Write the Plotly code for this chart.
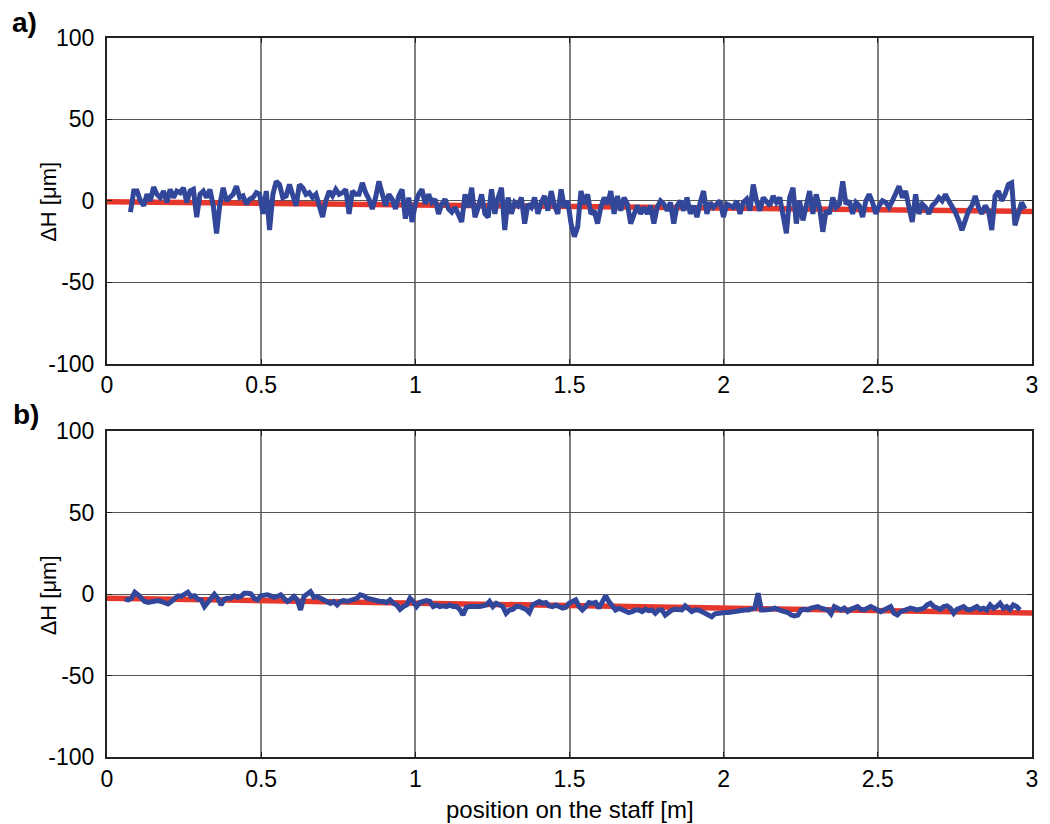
import numpy as np
import plotly.graph_objects as go
from plotly.subplots import make_subplots

# a) height deviations along the staff [um], sampled at regular positions
pos_a_start, pos_a_end = 0.076, 2.977
dh_a = [
    -7, 6, 6, 0, -3, 4, 0, 8.5, 4, 2, 6, -1, 7, 2, 6, 5, 8, -1, 6, 7, -10, 4, 6, 2, 7, -3,
    -20, -2, 8, 0, 2, 4, 9, 2, 3, -2, 1, 2, 5, 4, -8, 6, -18, 4, 12, 10, 2, 3, 10, 2, -3, 10,
    8, 4, 5, 2, 4, -3, -10, 0, 6, 3, 7, 4, 5, 7, -8, 6, 4, 4, 11, 5, 1, -5, 2, 12, 4, -3, 4,
    1, -5, 3, 7, -11, 2, -13, -2, 4, 7, -2, 4, -1, 1, -8, -2, 1,
    -5, -7, -4, -8, -13, 4, -4, 8, -10, -4, 4, -8, -10, 7, -8, 2, 8, -18, 2, -8, -1, -3, 2,
    -14, -2, -4, 2, -8, -1, 3, -6, 6, -3, -8, 7, -4, 0, -14, -22, -16, 6, -2, 4, -8, -6, -14,
    -4, 2, -2, 6, -8, 3, -6, 2, -2, -14, -8, -3, -8, -4, -8, -3, -14, -4, 0, -2, -6, -1, -14,
    -3, 0, -6, 2, -8, -3, -10, -1, 6, -8, -1, -4, -2, 0, -10, -2, -3, -4, 0, -8, -1, 1, -6,
    10, 0, -6, 2, 0, -3, 3, -1, 2, -8, -20, 2,
    8, -14, 0, -12, -2, 6, -8, 4, -4, -19, -6, -8, 2, -4, -2, 12, -2, 0, -8, -1, -3, -10, 0,
    4, -1, -8, -3, 0, -1, -4, 0, 4, 9, 2, 6, -4, -13, 4, -8, -2, -4, -8, -3, -1, 2, 0, 4, 0,
    -3, -7, -12, -18, -12, -6, -3, 3, -4, -8, -3, -6, -18, 3, 6, 0, 4, 10, 11, -15, -8, -1, -5,
]

# b) height deviations along the staff [um], sampled at regular positions
pos_b_start, pos_b_end = 0.058, 2.961
dh_b = [
    -3, -3.5, -2.5, 1.2, -0.4, -2.5, -4.5, -5.1, -4.5, -4.5, -3.9, -4.5, -5.6, -6, -4.5,
    -2.5, -1, -1.4, -0.4, 1.2, -1.4, -1, -3.1, -3.5, -7.6, -4.5, -2.5, 0, -2.5, -6.6, -3.1,
    -2.5, -2.5, -1, -1.9, -1.4, 0.6, 0.6, 0.2, -2.5, -3.5, -1, -0.4, -0.4, -1, -1.9, -1.4,
    -0.4, -2.5, -4.5, -3.1, -1.4, -3.5, -9.7, -1.4, 0.6, 1.6, -1.9, -1.4, -2.5, -3.5, -4.5,
    -5.6, -4.5, -6.6, -4.5, -3.9, -4.5, -3.9, -3.5, -2.5, -0.4, -1, -2.5, -3.1, -3.5, -4.5,
    -4.5, -4.5, -5.1, -3.5, -5.6, -6.6, -9.3, -7.6, -6.6, -2.5, -4.5, -7.6, -5.1, -4.5,
    -3.9, -4.5, -7.6, -6.6, -7.6, -7.2, -7.6,
    -6.6, -7.6, -7.6, -9.3, -12.8, -8, -7.6, -7.6, -8, -7.6, -7.2, -6.6, -4.5, -7.6, -5.6,
    -6.6, -7.6, -11.7, -9.7, -9.3, -7.6, -7.6, -8.6, -9.3, -11.3, -6.6, -5.6, -4.5, -5.6,
    -5.1, -7.2, -7.6, -6.6, -7.2, -8.6, -8, -5.6, -4.5, -3.5, -7.6, -9.7, -7.6, -5.1, -5.6,
    -5.1, -8.6, -4.5, -1, -4.5, -7.6, -9.7, -8.6, -9.7, -10.7, -11.3, -10.7, -9.7, -9.7,
    -10.7, -9.3, -10.1, -9.7, -11.7, -9.7, -9.7, -12.8, -11.3, -9.7, -9.3, -9.7, -9.7, -7.2,
    -9.3, -10.7, -9.7, -9.7, -10.7, -11.7, -12.8, -13.8, -12.1, -11.7, -11.3, -11.3, -11.3,
    -10.7, -10.7, -10.3, -9.7, -9.7, -9.7, -9.3, -8.6, 0.6, -9.7, -9.7, -9.7, -9.3, -8.6,
    -9.7, -10.1, -10.7, -11.3, -12.8, -13.4,
    -12.8, -9.7, -9.3, -9.7, -8.6, -8, -7.6, -8.6, -9.3, -9.7, -12.1, -7.6, -8.6, -9.7, -8.6,
    -10.7, -9.3, -8.6, -7.6, -9.3, -9.7, -8.6, -7.6, -8.6, -9.7, -10.7, -9.7, -8.6, -7.6,
    -11.7, -12.8, -10.7, -9.7, -9.3, -8.6, -9.3, -9.7, -9.3, -8.6, -6.6, -5.6, -7.6, -8.6,
    -9.3, -7.6, -7.2, -8.6, -11.7, -9.3, -8.6, -7.6, -9.3, -9.7, -8.6, -7.6, -9.3, -8.6,
    -9.7, -6.6, -8.6, -7.6, -5.6, -8.6, -7.6, -9.3, -6.6, -7.6, -9.7,
]

# linear trend fitted to each profile (start and end of the staff)
trend_x = [0, 3]
trend_a = [-0.5, -6.5]
trend_b = [-2.5, -11.5]

x_ticks = [0, 0.5, 1, 1.5, 2, 2.5, 3]
x_tick_text = ["0", "0.5", "1", "1.5", "2", "2.5", "3"]
y_ticks = [-100, -50, 0, 50, 100]
y_tick_text = ["-100", "-50", "0", "50", "100"]

BLUE = "#33479a"
RED = "#e6372d"
FONT = "Liberation Sans, Arial, sans-serif"

pos_a = np.linspace(pos_a_start, pos_a_end, len(dh_a))
pos_b = np.linspace(pos_b_start, pos_b_end, len(dh_b))

fig = make_subplots(rows=2, cols=1, vertical_spacing=0.0942)

for row, (pos, dh, trend) in enumerate([(pos_a, dh_a, trend_a), (pos_b, dh_b, trend_b)], start=1):
    fig.add_trace(go.Scatter(x=trend_x, y=trend, mode="lines",
                             line=dict(color=RED, width=5.5), showlegend=False), row=row, col=1)
    fig.add_trace(go.Scatter(x=pos, y=dh, mode="lines",
                             line=dict(color=BLUE, width=5), showlegend=False), row=row, col=1)

axis_common = dict(
    showline=True, linecolor="#222222", linewidth=2, mirror="ticks",
    ticks="inside", ticklen=5, tickcolor="#222222", tickwidth=1,
    tickfont=dict(family=FONT, size=23, color="black"),
    zeroline=False,
)
fig.update_xaxes(range=[0, 3], tickvals=x_ticks, ticktext=x_tick_text,
                 showgrid=True, gridcolor="#7f7f7f", gridwidth=2, **axis_common)
fig.update_yaxes(range=[-100, 100], tickvals=y_ticks, ticktext=y_tick_text,
                 showgrid=True, gridcolor="#555555", gridwidth=1,
                 ticklabelstandoff=6, **axis_common)

fig.update_layout(
    width=1050, height=824,
    margin=dict(l=107, r=12, t=38, b=67),
    paper_bgcolor="white", plot_bgcolor="white",
    font=dict(family=FONT, color="black"),
    annotations=[
        dict(text="ΔH [μm]", textangle=-90, x=-0.0634, y=0.7726, xref="paper", yref="paper",
             showarrow=False, font=dict(size=22), xanchor="center", yanchor="middle"),
        dict(text="ΔH [μm]", textangle=-90, x=-0.0634, y=0.2253, xref="paper", yref="paper",
             showarrow=False, font=dict(size=22), xanchor="center", yanchor="middle"),
        dict(text="position on the staff [m]", x=0.5, y=-0.0725, xref="paper", yref="paper",
             showarrow=False, font=dict(size=24), xanchor="center", yanchor="middle"),
        dict(text="<b>a)</b>", x=-0.0892, y=1.0209, xref="paper", yref="paper",
             showarrow=False, font=dict(size=28), xanchor="center", yanchor="middle"),
        dict(text="<b>b)</b>", x=-0.0881, y=0.477, xref="paper", yref="paper",
             showarrow=False, font=dict(size=28), xanchor="center", yanchor="middle"),
    ],
)

fig.write_html("out.html")
